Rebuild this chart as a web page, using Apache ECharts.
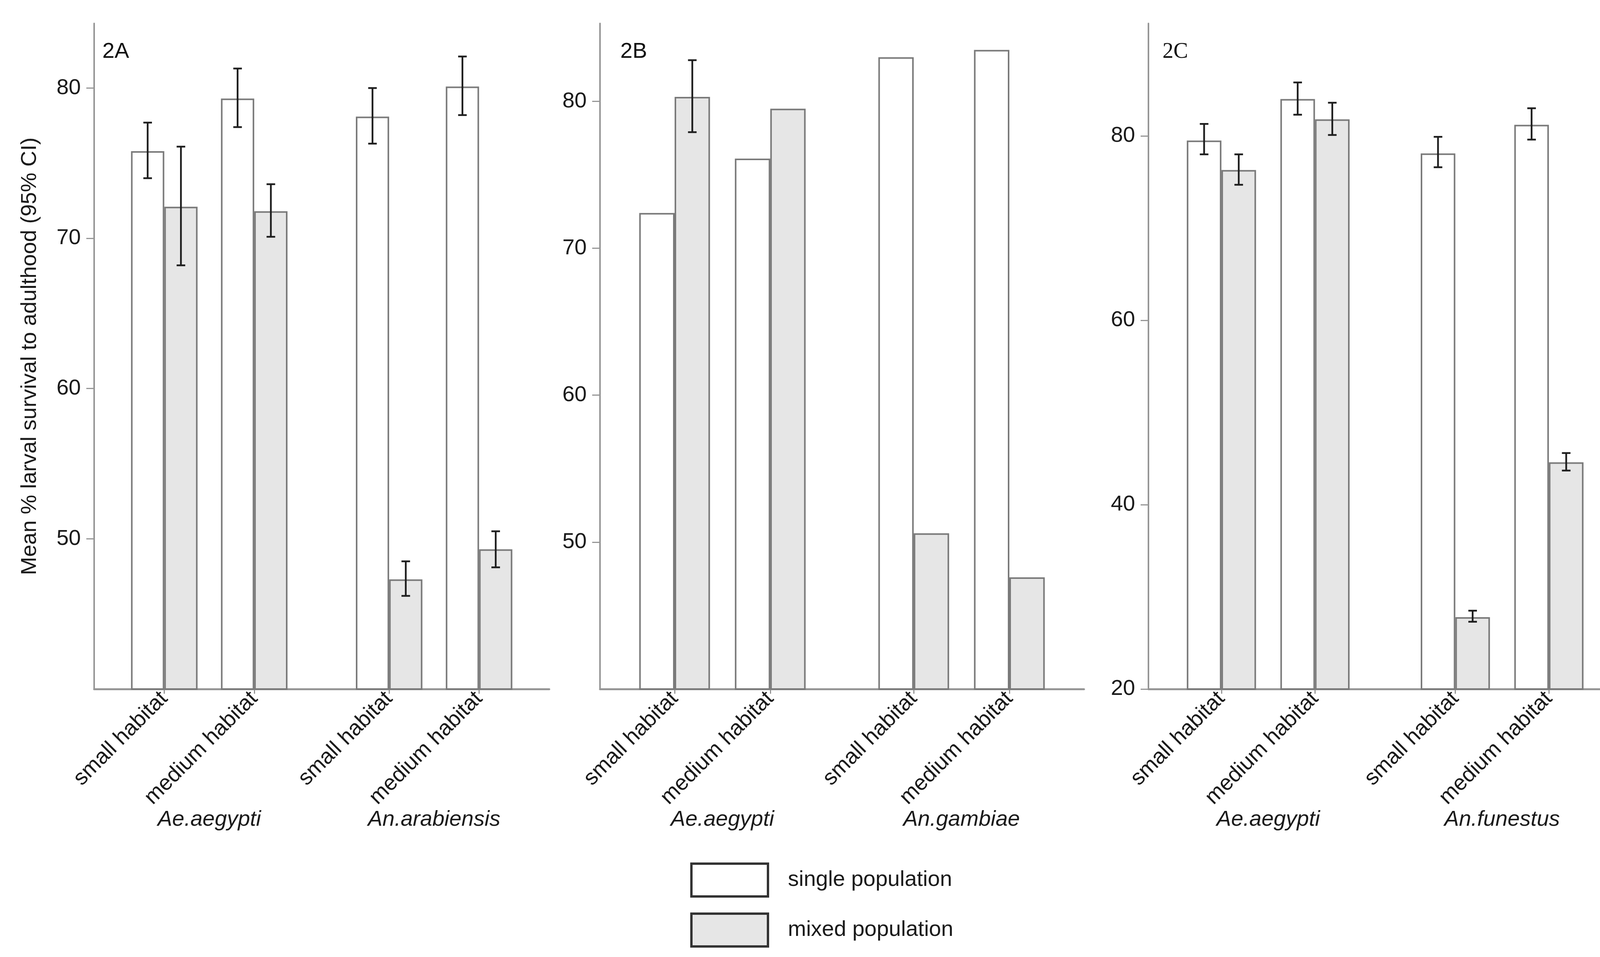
<!DOCTYPE html>
<html><head><meta charset="utf-8">
<script src="https://cdn.jsdelivr.net/npm/echarts@6/dist/echarts.min.js"></script>
<style>html,body{margin:0;padding:0;background:#fff;overflow:hidden}#c{width:4190px;height:2450px}</style>
</head><body><div id="c"></div>
<script>
// ---------- data ----------
const habitats = ['small habitat', 'medium habitat', 'small habitat', 'medium habitat'];
const speciesA = ['Ae.aegypti', 'An.arabiensis'];
const speciesB = ['Ae.aegypti', 'An.gambiae'];
const speciesC = ['Ae.aegypti', 'An.funestus'];
const seriesNames = ['single population', 'mixed population'];
const panelLabels = ['2A', '2B', '2C'];
const yTitle = 'Mean % larval survival to adulthood (95% CI)';

const singleA = [75.8, 79.3, 78.1, 80.1];
const mixedA = [72.1, 71.8, 47.3, 49.3];
const singleA_low = [74.0, 77.4, 76.3, 78.2];
const singleA_high = [77.7, 81.3, 80.0, 82.1];
const mixedA_low = [68.2, 70.1, 46.2, 48.1];
const mixedA_high = [76.1, 73.6, 48.5, 50.5];

const singleB = [72.4, 76.1, 83.0, 83.5];
const mixedB = [80.3, 79.5, 50.6, 47.6];
const singleB_low = [null, null, null, null];
const singleB_high = [null, null, null, null];
const mixedB_low = [77.9, null, null, null];
const mixedB_high = [82.8, null, null, null];

const singleC = [79.5, 84.0, 78.1, 81.2];
const mixedC = [76.3, 81.8, 27.8, 44.6];
const singleC_low = [78.0, 82.3, 76.6, 79.6];
const singleC_high = [81.3, 85.8, 79.9, 83.0];
const mixedC_low = [74.7, 80.1, 27.3, 43.7];
const mixedC_high = [78.0, 83.6, 28.5, 45.6];

const yTicksA = [50, 60, 70, 80];
const yTicksB = [50, 60, 70, 80];
const yTicksC = [20, 40, 60, 80];

// ---------- layout (not data) ----------
const SLOT = [0, 1, 2.5, 3.5];
const SPECIES_POS = [0.5, 3.0];
const XMIN = -0.78, XMAX = 4.28;
const TOP = 60, HEIGHT = 1704;
const FONT = 'Liberation Sans';
const FS = 56;
const AXIS_COLOR = '#969696';
const BAR_BORDER = '#7a7a7a';

const panels = [
  {left: 241, width: 1165, ymin: 40, ymax: 84.3, ticks: yTicksA, single: singleA, mixed: mixedA,
   sLo: singleA_low, sHi: singleA_high, mLo: mixedA_low, mHi: mixedA_high, species: speciesA,
   label: panelLabels[0], labelX: 257, labelFont: FONT, title: yTitle},
  {left: 1536, width: 1239, ymin: 40, ymax: 85.3, ticks: yTicksB, single: singleB, mixed: mixedB,
   sLo: singleB_low, sHi: singleB_high, mLo: mixedB_low, mHi: mixedB_high, species: speciesB,
   label: panelLabels[1], labelX: 1583, labelFont: FONT, title: ''},
  {left: 2940, width: 1212, ymin: 20, ymax: 92.2, ticks: yTicksC, single: singleC, mixed: mixedC,
   sLo: singleC_low, sHi: singleC_high, mLo: mixedC_low, mHi: mixedC_high, species: speciesC,
   label: panelLabels[2], labelX: 2971, labelFont: 'Liberation Serif', title: ''}
];

function errRender(side, barW) {
  return function (params, api) {
    const x = api.value(0), lo = api.value(1), hi = api.value(2);
    const a = api.coord([x, lo]), b = api.coord([x, hi]);
    const cx = a[0] + side * barW / 2;
    const cap = 11;
    const style = {stroke: '#1e1e1e', lineWidth: 4.5};
    return {type: 'group', children: [
      {type: 'line', shape: {x1: cx, y1: a[1], x2: cx, y2: b[1]}, style: style},
      {type: 'line', shape: {x1: cx - cap, y1: a[1], x2: cx + cap, y2: a[1]}, style: style},
      {type: 'line', shape: {x1: cx - cap, y1: b[1], x2: cx + cap, y2: b[1]}, style: style}
    ]};
  };
}

const grid = [], xAxis = [], yAxis = [], series = [], title = [];
panels.forEach(function (p, i) {
  grid.push({left: p.left, top: TOP, width: p.width, height: HEIGHT, outerBoundsMode: 'none', containLabel: false});
  const barW = p.width / (XMAX - XMIN) * 0.37;
  xAxis.push({
    type: 'value', gridIndex: i, min: XMIN, max: XMAX, position: 'bottom',
    splitLine: {show: false},
    axisLine: {show: true, onZero: false, lineStyle: {color: AXIS_COLOR, width: 5}},
    axisTick: {show: true, customValues: SLOT, length: 12, lineStyle: {color: AXIS_COLOR, width: 3}},
    axisLabel: {customValues: SLOT, rotate: 45, margin: 16, color: '#1a1a1a', fontFamily: FONT, fontSize: FS,
      formatter: function (v) { const k = SLOT.indexOf(v); return k >= 0 ? habitats[k] : ''; }}
  });
  xAxis.push({
    type: 'value', gridIndex: i, min: XMIN, max: XMAX, position: 'bottom',
    splitLine: {show: false}, axisLine: {show: false, onZero: false}, axisTick: {show: false},
    axisLabel: {customValues: SPECIES_POS, margin: 306, color: '#1a1a1a', fontFamily: FONT, fontSize: FS, fontStyle: 'italic',
      formatter: function (v) { const k = SPECIES_POS.indexOf(v); return k >= 0 ? p.species[k] : ''; }}
  });
  yAxis.push({
    type: 'value', gridIndex: i, min: p.ymin, max: p.ymax, position: 'left',
    name: p.title, nameLocation: 'middle', nameRotate: 90, nameGap: 136,
    nameTextStyle: {color: '#1a1a1a', fontFamily: FONT, fontSize: FS},
    splitLine: {show: false},
    axisLine: {show: true, onZero: false, lineStyle: {color: AXIS_COLOR, width: 4}},
    axisTick: {show: true, customValues: p.ticks, length: 20, lineStyle: {color: AXIS_COLOR, width: 3}},
    axisLabel: {customValues: p.ticks, margin: 34, color: '#1a1a1a', fontFamily: FONT, fontSize: FS}
  });
  const xi = i * 2;
  series.push({
    type: 'bar', name: seriesNames[0], xAxisIndex: xi, yAxisIndex: i, barWidth: barW, barGap: '0%',
    itemStyle: {color: '#ffffff', borderColor: BAR_BORDER, borderWidth: 4},
    data: p.single.map(function (v, k) { return [SLOT[k], v]; })
  });
  series.push({
    type: 'bar', name: seriesNames[1], xAxisIndex: xi, yAxisIndex: i, barWidth: barW, barGap: '0%',
    itemStyle: {color: '#e6e6e6', borderColor: BAR_BORDER, borderWidth: 4},
    data: p.mixed.map(function (v, k) { return [SLOT[k], v]; })
  });
  const sErr = [], mErr = [];
  for (let k = 0; k < 4; k++) {
    if (p.sLo[k] != null) sErr.push([SLOT[k], p.sLo[k], p.sHi[k]]);
    if (p.mLo[k] != null) mErr.push([SLOT[k], p.mLo[k], p.mHi[k]]);
  }
  series.push({type: 'custom', xAxisIndex: xi, yAxisIndex: i, renderItem: errRender(-1, barW),
    encode: {x: 0, y: [1, 2]}, data: sErr, z: 5});
  series.push({type: 'custom', xAxisIndex: xi, yAxisIndex: i, renderItem: errRender(1, barW),
    encode: {x: 0, y: [1, 2]}, data: mErr, z: 5});
  title.push({text: p.label, left: p.labelX, top: 100,
    textStyle: {fontFamily: p.labelFont, fontSize: 56, fontWeight: 'normal', color: '#111'}});
});

const chart = echarts.init(document.getElementById('c'), null, {renderer: 'canvas'});
chart.setOption({
  animation: false,
  backgroundColor: '#ffffff',
  title: title,
  grid: grid, xAxis: xAxis, yAxis: yAxis, series: series,
  legend: {
    data: seriesNames, orient: 'vertical', left: 1762, top: 2203,
    icon: 'rect', itemWidth: 196, itemHeight: 84, itemGap: 38,
    itemStyle: {borderColor: '#333', borderWidth: 6},
    textStyle: {fontFamily: FONT, fontSize: FS, color: '#1a1a1a', padding: [0, 0, 0, 46]},
    selectedMode: false
  }
});
</script></body></html>
